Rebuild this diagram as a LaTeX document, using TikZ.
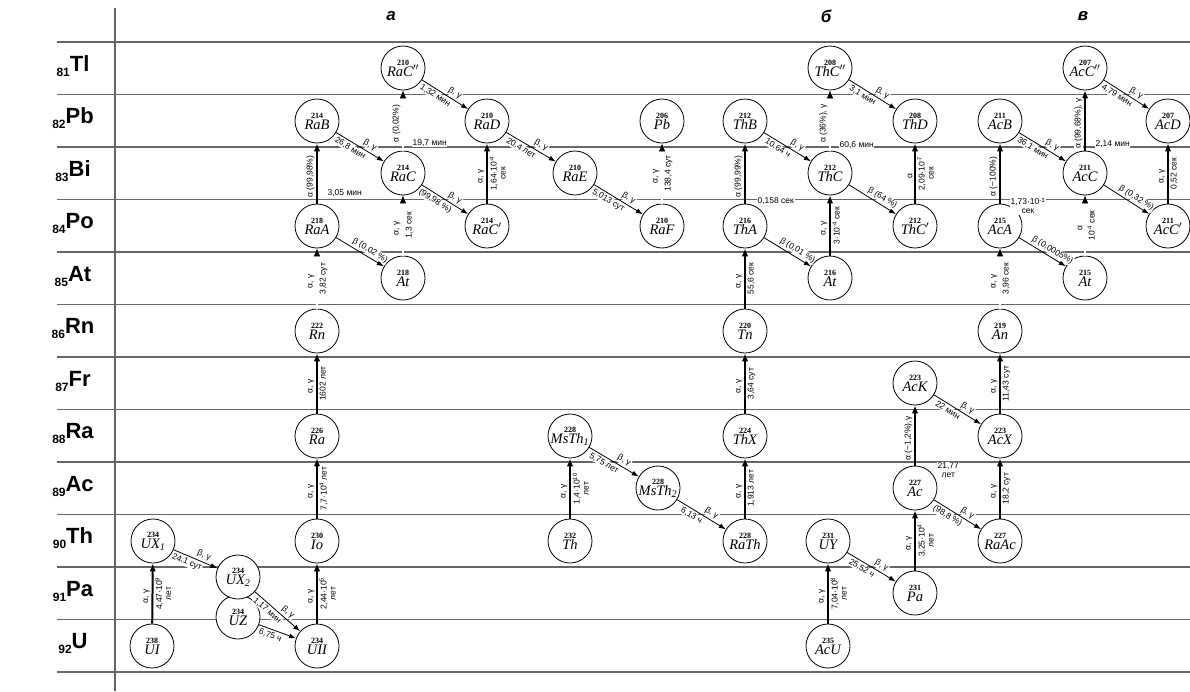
\documentclass[tikz,border=0pt]{standalone}
\usepackage{fontspec}
\setmainfont{Liberation Serif}
\newfontfamily\lab{Liberation Sans}
\usetikzlibrary{arrows.meta}
\newcommand{\iso}[2]{{\fontsize{8}{8}\selectfont\bfseries #1}\\[-1pt]{\fontsize{14.5}{14.5}\selectfont\itshape #2}}
\newcommand{\elem}[2]{\raisebox{-5pt}{\fontsize{12}{12}\selectfont #1}#2}
\tikzset{
nuc/.style={circle,draw,fill=white,line width=0.8pt,minimum size=44pt,inner sep=0pt,align=center},
alf/.style={line width=2pt,-{Latex[length=8pt,width=6.5pt]}},
alfd/.style={line width=0.7pt,double,double distance=1.3pt,-{Latex[length=8pt,width=6.5pt]}},
bet/.style={line width=0.8pt,-{Latex[length=7pt,width=5pt]}},
lbl/.style={font=\lab\fontsize{8.5}{9}\selectfont,fill=white,inner sep=0.6pt,outer sep=2pt,align=center},
lblL/.style={lbl,pos=0.45,anchor=south,rotate=90},
lblR/.style={lbl,midway,anchor=north,rotate=90},
lblA/.style={lbl,pos=0.64,sloped,above},
lblB/.style={lbl,pos=0.36,sloped,below},
hl/.style={lbl,anchor=west},
rowline/.style={line width=1.6pt,black!60}
}
\begin{document}
\begin{tikzpicture}[x=1pt,y=-1pt]
\useasboundingbox (0,0) rectangle (1190,691);

%Grid
\foreach \k in {0,...,12}
  \draw[rowline] (57,42+52.5*\k) -- (1190,42+52.5*\k);
\draw[line width=1.4pt,black!60] (115,8) -- (115,691);

% Row labels
\foreach \z/\s [count=\i from 0] in {81/Tl,82/Pb,83/Bi,84/Po,85/At,86/Rn,87/Fr,88/Ra,89/Ac,90/Th,91/Pa,92/U}
  \node[font=\lab\bfseries\fontsize{22}{22}\selectfont] (el\z) at (73,66+52.5*\i) {\elem{\z}{\s}};

% Series titles
\node[font=\lab\bfseries\itshape\fontsize{17}{17}\selectfont] (sera) at (391,16) {а};
\node[font=\lab\bfseries\itshape\fontsize{17}{17}\selectfont] (serb) at (826,16) {б};
\node[font=\lab\bfseries\itshape\fontsize{17}{17}\selectfont] (serv) at (1083,16) {в};

% Series a
\node[nuc] (UI) at (152,646) {\iso{238}{UI}};
\node[nuc] (UXa) at (153,541) {\iso{234}{UX\textsubscript{1}}};
\node[nuc] (UZ) at (238,617) {\iso{234}{UZ}};
\node[nuc] (UXb) at (238,577) {\iso{234}{UX\textsubscript{2}}};
\node[nuc] (UII) at (317,646) {\iso{234}{UII}};
\node[nuc] (Io) at (317,541) {\iso{230}{Io}};
\node[nuc] (Ra) at (317,436) {\iso{226}{Ra}};
\node[nuc] (Rn) at (317,331) {\iso{222}{Rn}};
\node[nuc] (RaA) at (317,226) {\iso{218}{RaA}};
\node[nuc] (RaB) at (317,121) {\iso{214}{RaB}};
\node[nuc] (RaC) at (403,173) {\iso{214}{RaC}};
\node[nuc] (RaCpp) at (403,68) {\iso{210}{RaC$''$}};
\node[nuc] (AtA) at (403,278) {\iso{218}{At}};
\node[nuc] (RaCp) at (487,226) {\iso{214}{RaC$'$}};
\node[nuc] (RaD) at (487,121) {\iso{210}{RaD}};
\node[nuc] (RaE) at (575,173) {\iso{210}{RaE}};
\node[nuc] (RaF) at (662,226) {\iso{210}{RaF}};
\node[nuc] (Pb) at (662,121) {\iso{206}{Pb}};

% Thorium start
\node[nuc] (MsThA) at (570,436) {\iso{228}{MsTh\textsubscript{1}}};
\node[nuc] (ThN) at (570,541) {\iso{232}{Th}};
\node[nuc] (MsThB) at (658,488) {\iso{228}{MsTh\textsubscript{2}}};
\node[nuc] (RaTh) at (745,541) {\iso{228}{RaTh}};

% Series b
\node[nuc] (ThX) at (745,436) {\iso{224}{ThX}};
\node[nuc] (Tn) at (745,331) {\iso{220}{Tn}};
\node[nuc] (ThA) at (745,226) {\iso{216}{ThA}};
\node[nuc] (ThB) at (745,121) {\iso{212}{ThB}};
\node[nuc] (ThC) at (830,173) {\iso{212}{ThC}};
\node[nuc] (ThCpp) at (830,68) {\iso{208}{ThC$''$}};
\node[nuc] (AtB) at (830,278) {\iso{216}{At}};
\node[nuc] (ThD) at (915,121) {\iso{208}{ThD}};
\node[nuc] (ThCp) at (915,226) {\iso{212}{ThC$'$}};
\node[nuc] (UY) at (828,541) {\iso{231}{UY}};
\node[nuc] (AcU) at (828,646) {\iso{235}{AcU}};
\node[nuc] (PaN) at (915,593) {\iso{231}{Pa}};
\node[nuc] (AcN) at (915,488) {\iso{227}{Ac}};

% Series v
\node[nuc] (AcK) at (915,383) {\iso{223}{AcK}};
\node[nuc] (AcX) at (1000,436) {\iso{223}{AcX}};
\node[nuc] (RaAc) at (1000,541) {\iso{227}{RaAc}};
\node[nuc] (An) at (1000,331) {\iso{219}{An}};
\node[nuc] (AcA) at (1000,226) {\iso{215}{AcA}};
\node[nuc] (AcB) at (1000,121) {\iso{211}{AcB}};
\node[nuc] (AtC) at (1085,278) {\iso{215}{At}};
\node[nuc] (AcC) at (1085,173) {\iso{211}{AcC}};
\node[nuc] (AcCpp) at (1085,68) {\iso{207}{AcC$''$}};
\node[nuc] (AcD) at (1168,121) {\iso{207}{AcD}};
\node[nuc] (AcCp) at (1168,226) {\iso{211}{AcC$'$}};

% Decays, series a
\draw[alf] (UI) -- (UXa) node[lblL] (q1) {α, γ} node[lblR] (q2) {4,47·10\textsuperscript{9}\\лет};
\draw[bet] (UXa) -- (UXb) node[lblA] (q3) {β, γ} node[lblB] (q4) {24,1 сут};
\draw[bet] (UXb) -- (UII) node[lblA] (q5) {β, γ} node[lblB] (q6) {1,17 мин};
\draw[bet] (UZ) -- (UII) node[lblB] (q7) {6,75 ч};
\draw[alf] (UII) -- (Io) node[lblL] (q8) {α, γ} node[lblR] (q9) {2,44·10\textsuperscript{5}\\лет};
\draw[alf] (Io) -- (Ra) node[lblL] (q10) {α, γ} node[lblR] (q11) {7,7·10\textsuperscript{4} лет};
\draw[alf] (Ra) -- (Rn) node[lblL] (q12) {α, γ} node[lblR] (q13) {1602 лет};
\draw[alfd] (Rn) -- (RaA) node[lblL] (q14) {α, γ} node[lblR] (q15) {3,82 сут};
\draw[alf] (RaA) -- (RaB) node[lblL] (q16) {α (99,98\%)};
\node[hl] (t1) at (325,193) {3,05 мин};
\draw[bet] (RaA) -- (AtA) node[lblA] (q17) {β (0,02 \%)};
\draw[alfd] (AtA) -- (RaC) node[lblL] (q18) {α, γ} node[lblR] (q19) {1,3 сек};
\draw[bet] (RaB) -- (RaC) node[lblA] (q20) {β, γ} node[lblB] (q21) {26,8 мин};
\draw[alfd] (RaC) -- (RaCpp) node[lblL] (q22) {α (0,02\%)};
\node[hl] (t2) at (410,143) {19,7 мин};
\draw[bet] (RaC) -- (RaCp) node[lblA] (q23) {β, γ} node[lblB] (q24) {(99,98 \%)};
\draw[bet] (RaCpp) -- (RaD) node[lblA] (q25) {β, γ} node[lblB] (q26) {1,32 мин};
\draw[alf] (RaCp) -- (RaD) node[lblL] (q27) {α, γ} node[lblR] (q28) {1,64·10\textsuperscript{-4}\\сек};
\draw[bet] (RaD) -- (RaE) node[lblA] (q29) {β, γ} node[lblB] (q30) {20,4 лет};
\draw[bet] (RaE) -- (RaF) node[lblA] (q31) {β, γ} node[lblB] (q32) {5,013 сут};
\draw[alfd] (RaF) -- (Pb) node[lblL] (q33) {α, γ} node[lblR] (q34) {138,4 сут};

% Decays, thorium start
\draw[alf] (ThN) -- (MsThA) node[lblL] (q35) {α, γ} node[lblR] (q36) {1,4·10\textsuperscript{10}\\лет};
\draw[bet] (MsThA) -- (MsThB) node[lblA] (q37) {β, γ} node[lblB] (q38) {5,75 лет};
\draw[bet] (MsThB) -- (RaTh) node[lblA] (q39) {β, γ} node[lblB] (q40) {6,13 ч};

% Decays, series b
\draw[alf] (RaTh) -- (ThX) node[lblL] (q41) {α, γ} node[lblR] (q42) {1,913 лет};
\draw[alf] (ThX) -- (Tn) node[lblL] (q43) {α, γ} node[lblR] (q44) {3,64 сут};
\draw[alf] (Tn) -- (ThA) node[lblL] (q45) {α, γ} node[lblR] (q46) {55,6 сек};
\draw[alf] (ThA) -- (ThB) node[lblL] (q47) {α (99,99\%)};
\node[hl] (t3) at (755,201) {0,158 сек};
\draw[bet] (ThA) -- (AtB) node[lblA] (q48) {β (0,01 \%)};
\draw[alf] (AtB) -- (ThC) node[lblL] (q49) {α, γ} node[lblR] (q50) {3·10\textsuperscript{-4} сек};
\draw[bet] (ThB) -- (ThC) node[lblA] (q51) {β, γ} node[lblB] (q52) {10,64 ч};
\draw[alfd] (ThC) -- (ThCpp) node[lblL] (q53) {α (36\%), γ};
\node[hl] (t4) at (837,145) {60,6 мин};
\draw[bet] (ThC) -- (ThCp) node[lblA] (q54) {β (64 \%)};
\draw[bet] (ThCpp) -- (ThD) node[lblA] (q55) {β, γ} node[lblB] (q56) {3,1 мин};
\draw[alf] (ThCp) -- (ThD) node[lblL] (q57) {α} node[lblR] (q58) {2,09·10\textsuperscript{-7}\\сек};
\draw[alf] (AcU) -- (UY) node[lblL] (q59) {α, γ} node[lblR] (q60) {7,04·10\textsuperscript{8}\\лет};
\draw[bet] (UY) -- (PaN) node[lblA] (q61) {β, γ} node[lblB] (q62) {25,52 ч};
\draw[alf] (PaN) -- (AcN) node[lblL] (q63) {α, γ} node[lblR] (q64) {3,25·10\textsuperscript{4}\\лет};

% Decays, series v
\draw[alf] (AcN) -- (AcK) node[lblL] (q65) {α (\textasciitilde1,2\%),γ};
\node[hl] (t5) at (935,470) {21,77\\лет};
\draw[bet] (AcN) -- (RaAc) node[lblA] (q66) {β, γ} node[lblB] (q67) {(98,8 \%)};
\draw[alf] (RaAc) -- (AcX) node[lblL] (q68) {α, γ} node[lblR] (q69) {18,2 сут};
\draw[bet] (AcK) -- (AcX) node[lblA] (q70) {β, γ} node[lblB] (q71) {22 мин};
\draw[alf] (AcX) -- (An) node[lblL] (q72) {α, γ} node[lblR] (q73) {11,43 сут};
\draw[alfd] (An) -- (AcA) node[lblL] (q74) {α, γ} node[lblR] (q75) {3,96 сек};
\draw[alf] (AcA) -- (AcB) node[lblL] (q76) {α (\textasciitilde100\%)};
\node[hl] (t6) at (1008,206) {1,73·10\textsuperscript{-3}\\сек};
\draw[bet] (AcA) -- (AtC) node[lblA] (q77) {β (0,0005\%)};
\draw[alfd] (AtC) -- (AcC) node[lblL] (q78) {α} node[lblR] (q79) {10\textsuperscript{-4} сек};
\draw[bet] (AcB) -- (AcC) node[lblA] (q80) {β, γ} node[lblB] (q81) {36,1 мин};
\draw[alf] (AcC) -- (AcCpp) node[lblL] (q82) {α (99,68\%), γ};
\node[hl] (t7) at (1093,144) {2,14 мин};
\draw[bet] (AcC) -- (AcCp) node[lblA] (q83) {β (0,32 \%)};
\draw[bet] (AcCpp) -- (AcD) node[lblA] (q84) {β, γ} node[lblB] (q85) {4,79 мин};
\draw[alf] (AcCp) -- (AcD) node[lblL] (q86) {α, γ} node[lblR] (q87) {0,52 сек};
\end{tikzpicture}
\end{document}
